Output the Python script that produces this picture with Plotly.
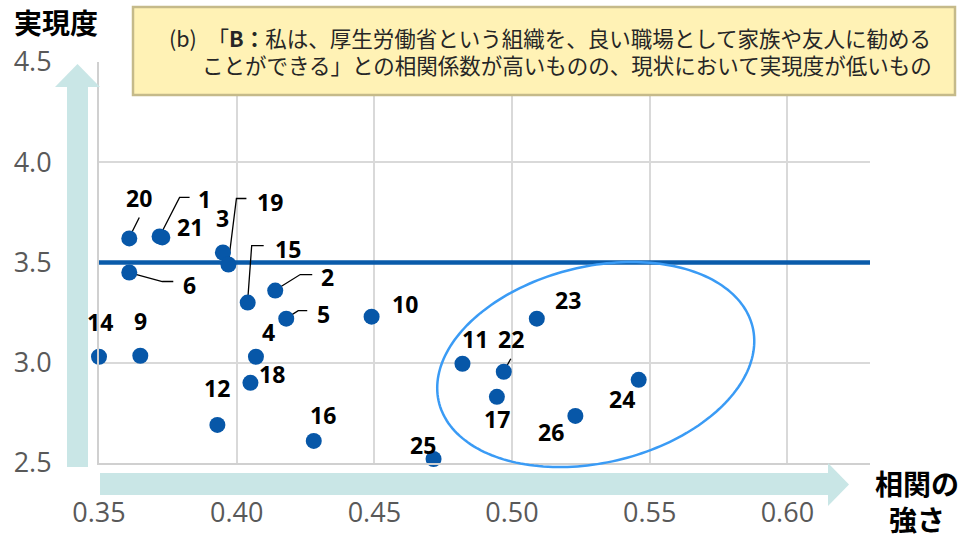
import numpy as np
import plotly.graph_objects as go

# ---------------- data ----------------
item_ids = [1, 2, 3, 4, 5, 6, 9, 10, 11, 12, 14, 15, 16, 17, 18, 19, 20, 21, 22, 23, 24, 25, 26]
correlation = [0.372, 0.414, 0.395, 0.407, 0.418, 0.361, 0.365, 0.449, 0.482, 0.393, 0.350, 0.404,
               0.428, 0.4945, 0.405, 0.397, 0.361, 0.373, 0.497, 0.509, 0.546, 0.4715, 0.523]
realization = [3.630, 3.36, 3.55, 3.03, 3.22, 3.45, 3.035, 3.23, 2.995, 2.69, 3.03, 3.30,
               2.61, 2.83, 2.90, 3.49, 3.62, 3.625, 2.955, 3.22, 2.915, 2.52, 2.735]
threshold = 3.5
x_ticks = [0.35, 0.40, 0.45, 0.50, 0.55, 0.60]
y_ticks = [2.5, 3.0, 3.5, 4.0, 4.5]
title_lines = ["(b)　「<b>B：</b>私は、厚生労働省という組織を、良い職場として家族や友人に勧める",
               "ことができる」との相関係数が高いものの、現状において実現度が低いもの"]

# ---------------- layout geometry ----------------
W, H = 963, 535
ML, MR, MT, MB = 99, 93, 62, 72
PW, PH = W - ML - MR, H - MT - MB
XR = [0.35, 0.63]
YR = [2.5, 4.5]
sx = PW / (XR[1] - XR[0])
sy = PH / (YR[1] - YR[0])

def pxp(px):  # page pixel x -> paper
    return (px - ML) / PW

def pyp(py):  # page pixel y -> paper
    return (H - MB - py) / PH

# label offsets (pixels, screen: +dx right, +dy down)
label_off = {1: (45, -37), 2: (52, -14), 3: (0, -34), 4: (13, -25), 5: (37, -5), 6: (60, 12),
             9: (0, -35), 10: (33, -13), 11: (13, -25), 12: (0, -37), 14: (1, -35), 15: (40, -54),
             16: (9, -26), 17: (0, 22), 18: (22, -9), 19: (42, -63), 20: (10, -40), 21: (28, -10),
             22: (7, -33), 23: (31, -19), 24: (-17, 19), 25: (-11, -14), 26: (-24, 16)}
# leader polylines (pixel offsets from point)
leaders = {1: [(1, -2), (20, -39), (30, -39)],
           19: [(0, -2), (8, -66), (18, -66)],
           15: [(0, -2), (4, -57), (16, -57)],
           6: [(0, 0), (33, 9), (44, 9)],
           2: [(1, -1), (25, -16), (37, -16)],
           5: [(1, -1), (12, -8), (21, -8)],
           20: [(1, -3), (10, -21)],
           22: [(1, -2), (7, -13)]}

fig = go.Figure()

# threshold line
fig.add_trace(go.Scatter(x=XR, y=[threshold, threshold], mode="lines",
                         line=dict(color="#0A5BAA", width=4.5), hoverinfo="skip", showlegend=False))

# leader lines
lx, ly = [], []
for k, pts in leaders.items():
    i = item_ids.index(k)
    for dx, dy in pts:
        lx.append(correlation[i] + dx / sx)
        ly.append(realization[i] - dy / sy)
    lx.append(None)
    ly.append(None)
fig.add_trace(go.Scatter(x=lx, y=ly, mode="lines", line=dict(color="black", width=1.3),
                         hoverinfo="skip", showlegend=False))

# points
fig.add_trace(go.Scatter(x=correlation, y=realization, mode="markers",
                         marker=dict(size=16, color="#0757A8"), cliponaxis=False,
                         showlegend=False))

annotations = []
for k, x, y in zip(item_ids, correlation, realization):
    dx, dy = label_off[k]
    annotations.append(dict(x=x, y=y, xref="x", yref="y", text=f"<b>{k}</b>", showarrow=False,
                            xshift=dx, yshift=-dy, font=dict(family="Open Sans", size=23, color="black")))

shapes = []

# ellipse around highlighted group
cx, cy = 0.5304, 2.991
a, b, th = 161.3, 98.1, np.deg2rad(13.45)
t = np.linspace(0, 2 * np.pi, 200)
ox = a * np.cos(t) * np.cos(th) - b * np.sin(t) * np.sin(th)
oy = a * np.cos(t) * np.sin(th) + b * np.sin(t) * np.cos(th)
ex = (cx - XR[0]) / (XR[1] - XR[0]) + ox / PW
ey = (cy - YR[0]) / (YR[1] - YR[0]) + oy / PH
path = "M " + " L ".join(f"{u:.5f},{v:.5f}" for u, v in zip(ex, ey)) + " Z"
shapes.append(dict(type="path", xref="paper", yref="paper", path=path,
                   line=dict(color="#3A9BF5", width=2.5), layer="above"))

# arrows
arrow_col = "#C9E6E6"
shapes.append(dict(type="rect", xref="paper", yref="paper", x0=pxp(67), x1=pxp(88), y0=pyp(467), y1=pyp(86),
                   fillcolor=arrow_col, line=dict(width=0)))
shapes.append(dict(type="path", xref="paper", yref="paper",
                   path=f"M {pxp(55)},{pyp(87)} L {pxp(100)},{pyp(87)} L {pxp(77.5)},{pyp(64)} Z",
                   fillcolor=arrow_col, line=dict(width=0)))
shapes.append(dict(type="rect", xref="paper", yref="paper", x0=pxp(100), x1=pxp(829), y0=pyp(495), y1=pyp(473),
                   fillcolor=arrow_col, line=dict(width=0)))
shapes.append(dict(type="path", xref="paper", yref="paper",
                   path=f"M {pxp(828)},{pyp(463)} L {pxp(828)},{pyp(506)} L {pxp(849)},{pyp(484.5)} Z",
                   fillcolor=arrow_col, line=dict(width=0)))

# title box
shapes.append(dict(type="rect", xref="paper", yref="paper", x0=pxp(133), x1=pxp(955), y0=pyp(95), y1=pyp(7),
                   fillcolor="#FFF2B5", line=dict(color="#C5BA8A", width=2.5), layer="above"))
for line, right, yc in zip(title_lines, [932, 933], [37, 64]):
    annotations.append(dict(xref="paper", yref="paper", x=pxp(right), y=pyp(yc), xanchor="right",
                            yanchor="middle", text=line, showarrow=False, align="right", borderpad=0,
                            font=dict(family="Noto Sans CJK JP", size=21.5, color="#262626")))

# axis titles
annotations.append(dict(xref="paper", yref="paper", x=pxp(56), y=pyp(22), xanchor="center", yanchor="middle",
                        text="<b>実現度</b>", showarrow=False,
                        font=dict(family="Noto Sans CJK JP", size=28, color="black")))
annotations.append(dict(xref="paper", yref="paper", x=pxp(917), y=pyp(501), xanchor="center", yanchor="middle",
                        text="<b>相関の<br>強さ</b>", showarrow=False, borderpad=0,
                        font=dict(family="Noto Sans CJK JP", size=28, color="black")))

fig.update_layout(
    width=W, height=H, margin=dict(l=ML, r=MR, t=MT, b=MB, autoexpand=False),
    paper_bgcolor="white", plot_bgcolor="white",
    shapes=shapes, annotations=annotations, showlegend=False,
    xaxis=dict(range=XR, tickvals=x_ticks, tickformat=".2f", showgrid=True, gridcolor="#D9D9D9", gridwidth=2,
               showline=True, linecolor="#D0D0D0", linewidth=2, zeroline=False, ticks="", automargin=False,
               ticklabelstandoff=25, tickfont=dict(family="Open Sans", size=27, color="#595959")),
    yaxis=dict(range=YR, tickvals=y_ticks, tickformat=".1f", showgrid=True, gridcolor="#D9D9D9", gridwidth=2,
               showline=True, linecolor="#D0D0D0", linewidth=2, zeroline=False, ticks="", automargin=False,
               ticklabelstandoff=40, tickfont=dict(family="Open Sans", size=27, color="#595959")),
)

fig.write_html("out.html")
